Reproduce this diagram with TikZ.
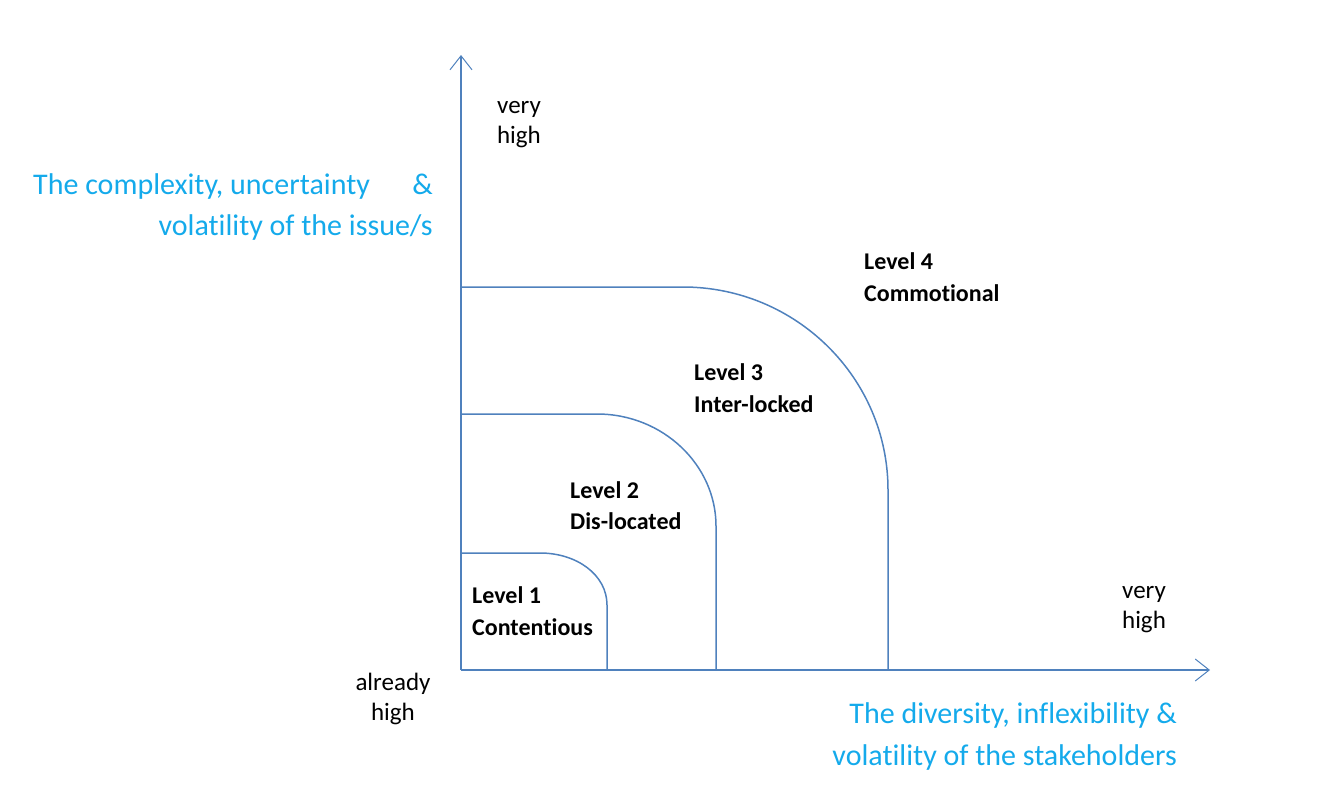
\documentclass[tikz,border=0pt]{standalone}
\usepackage{fontspec}
\setmainfont[Ligatures=NoCommon]{Carlito}
\usetikzlibrary{arrows.meta}
\definecolor{axisblue}{RGB}{79,129,189}
\definecolor{labelblue}{RGB}{20,170,235}
\tikzset{
  curve/.style={draw=axisblue, line width=1.5pt},
  axisline/.style={draw=axisblue, line width=1.5pt, -{Straight Barb[length=14pt,width=22pt,line width=1pt]}},
  lvl/.style={font=\fontsize{24}{28}\selectfont\bfseries, inner sep=0pt, anchor=base west, text=black},
  small/.style={font=\fontsize{25}{29}\selectfont, inner sep=0pt, anchor=base, text=black},
  bluetxt/.style={font=\fontsize{30}{36}\selectfont, inner sep=0pt, text=labelblue},
}
\begin{document}
\begin{tikzpicture}[x=1pt,y=-1pt]
\useasboundingbox (0,0) rectangle (1324,798);
% axes
\coordinate (O) at (461,670);
\coordinate (Ytop) at (461,55);
\coordinate (Xend) at (1210,670);
\draw[axisline] (O) -- (Ytop);
\draw[axisline] (O) -- (Xend);
% level boundaries
\coordinate (a1) at (461,553);
\coordinate (b1) at (607,670);
\draw[curve] (a1) -- (540,553) .. controls (577,553) and (607,575) .. (607,605) -- (b1);
\coordinate (a2) at (461,414);
\coordinate (b2) at (716,670);
\draw[curve] (a2) -- (597,414) .. controls (663,414) and (716,465) .. (716,526) -- (b2);
\coordinate (a3) at (461,287);
\coordinate (b3) at (888,670);
\draw[curve] (a3) -- (683,287) .. controls (796,287) and (888,378) .. (888,490) -- (b3);
% level labels
\node[lvl] (l4a) at (864,269) {Level 4};
\node[lvl] (l4b) at (864,301) {Commotional};
\node[lvl] (l3a) at (694,380) {Level 3};
\node[lvl] (l3b) at (694,412) {Inter-locked};
\node[lvl] (l2a) at (570,498) {Level 2};
\node[lvl] (l2b) at (570,529) {Dis-located};
\node[lvl] (l1a) at (472,603) {Level 1};
\node[lvl] (l1b) at (472,635) {Contentious};
% scale labels
\node[small] (vh1) at (519,113) {very};
\node[small] (vh2) at (519,143) {high};
\node[small] (vh3) at (1144,598) {very};
\node[small] (vh4) at (1144,628) {high};
\node[small] (ah1) at (393,690) {already};
\node[small] (ah2) at (393,720) {high};
% axis titles
\node[bluetxt, anchor=base west] (yt1) at (33,194) {The complexity, uncertainty};
\node[bluetxt, anchor=base east] (yt2) at (433,194) {\&};
\node[bluetxt, anchor=base east] (yt3) at (433,235) {volatility of the issue/s};
\node[bluetxt, anchor=base east] (xt1) at (1177,723) {The diversity, inflexibility \&};
\node[bluetxt, anchor=base east] (xt2) at (1177,765) {volatility of the stakeholders};
\end{tikzpicture}
\end{document}
